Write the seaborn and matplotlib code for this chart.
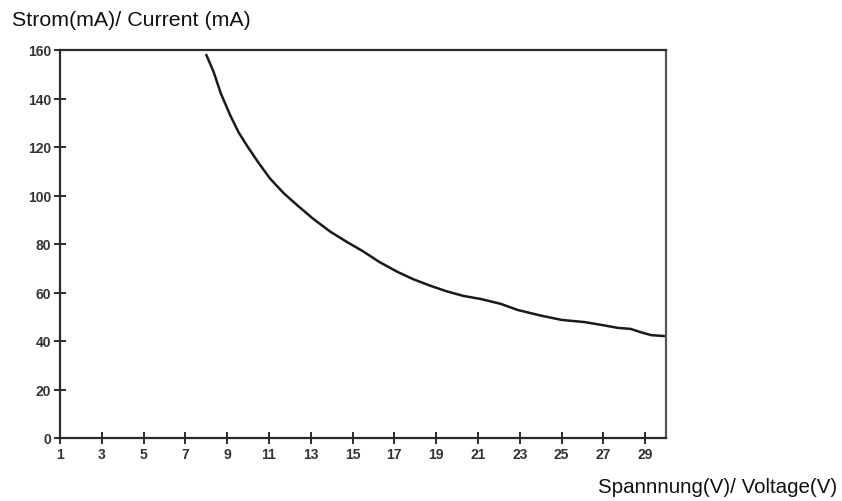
import matplotlib
matplotlib.use("Agg")
import matplotlib.pyplot as plt
import seaborn as sns
import pandas as pd

voltage = [8.0, 8.35, 8.7, 9.15, 9.55, 9.95, 10.5, 11.05, 11.7, 12.35, 13.1,
           13.95, 14.7, 15.5, 16.3, 17.15, 17.9, 18.75, 19.5, 20.3, 21.15,
           22.1, 22.9, 24.0, 25.0, 26.1, 27.0, 27.7, 28.3, 28.8, 29.3, 30.0]
current = [158, 151, 142, 133, 126, 120.5, 113.5, 107, 101, 96, 90.5,
           85, 81, 77, 72.5, 68.5, 65.5, 62.7, 60.5, 58.6, 57.3,
           55.3, 52.8, 50.5, 48.7, 47.8, 46.5, 45.4, 45.0, 43.6, 42.4, 42.0]
x_ticks = [1, 3, 5, 7, 9, 11, 13, 15, 17, 19, 21, 23, 25, 27, 29]
y_ticks = [0, 20, 40, 60, 80, 100, 120, 140, 160]
y_title = "Strom(mA)/ Current (mA)"
x_title = "Spannnung(V)/ Voltage(V)"

sns.set_style("white")
plt.rcParams['font.family'] = ['Liberation Sans', 'DejaVu Sans']

df = pd.DataFrame({"V": voltage, "I": current})

fig = plt.figure(figsize=(8.42, 5.02), dpi=100)
ax = fig.add_axes([60 / 842, 1 - 439 / 502, (666 - 60) / 842, (439 - 51) / 502])
sns.lineplot(data=df, x="V", y="I", ax=ax, color="#1a1a1a", linewidth=1.8)

ax.set_xlim(1, 30)
ax.set_ylim(0, 160)
ax.set_xticks(x_ticks)
ax.set_yticks(y_ticks)
ax.set_xlabel("")
ax.set_ylabel("")

for s in ax.spines.values():
    s.set_visible(True)
    s.set_linewidth(1.6)
    s.set_color("#2b2b2b")
ax.spines["right"].set_color("#555555")

ax.tick_params(axis="both", which="major", bottom=True, left=True,
               top=False, right=False, direction="inout", length=9, width=1.4,
               color="#2b2b2b", labelsize=10, labelcolor="#333333", pad=2)
for lab in ax.get_xticklabels() + ax.get_yticklabels():
    lab.set_fontweight("bold")
    lab.set_family(['Liberation Sans Narrow', 'Liberation Sans', 'DejaVu Sans'])

fig.text(12 / 842, 1 - 21 / 502, y_title, fontsize=15.4, color="#111111",
         ha="left", va="center")
fig.text(837 / 842, 1 - 488 / 502, x_title, fontsize=14.8, color="#111111",
         ha="right", va="center")

fig.savefig("out.png", dpi=100)
